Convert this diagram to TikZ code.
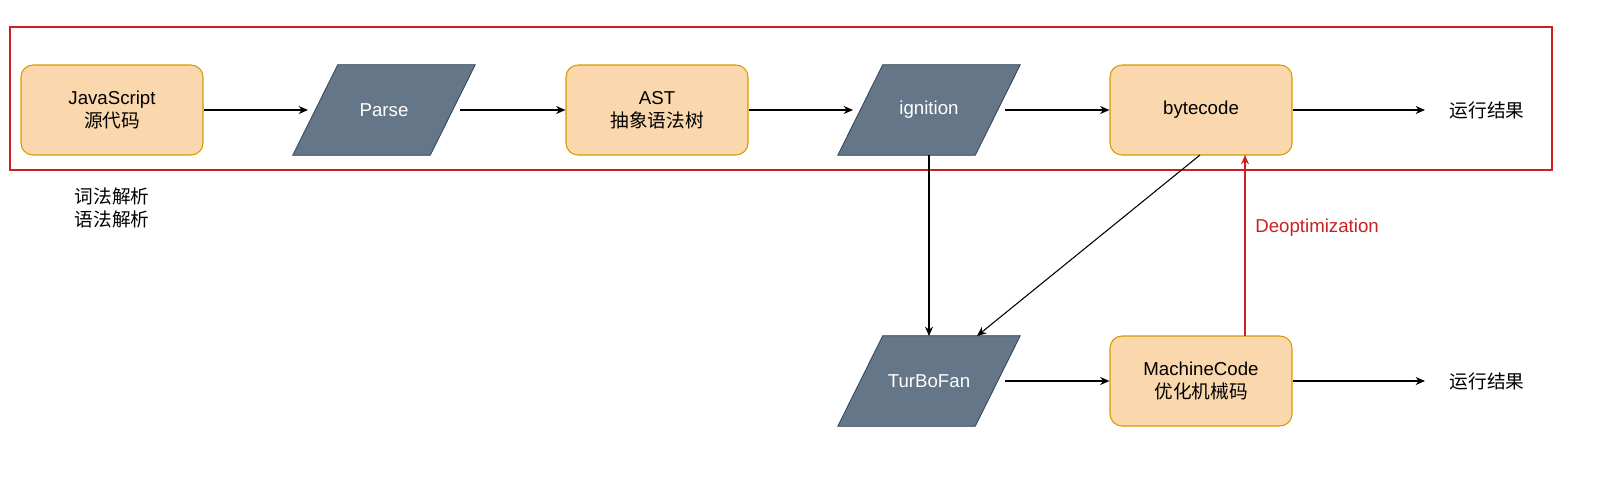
\documentclass[tikz,border=0pt]{standalone}
\usepackage{fontspec}
\setmainfont{Liberation Sans}
\newfontfamily\cjk{Noto Sans CJK SC}
\usetikzlibrary{arrows.meta,calc}
\definecolor{ofill}{HTML}{FAD7AC}
\definecolor{oline}{HTML}{D79B00}
\definecolor{pfill}{HTML}{647687}
\definecolor{pline}{HTML}{314354}
\definecolor{dred}{HTML}{CC1F1F}
\tikzset{
 x=0.75pt,y=-0.75pt,
 every node/.style={font=\fontsize{14}{17}\selectfont, align=center},
 obox/.style={draw=oline,fill=ofill,rounded corners=9pt,minimum width=136.5pt,minimum height=67.5pt,line width=0.8pt},
 pbox/.style={minimum width=136.5pt,minimum height=67.5pt,text=white},
 pshape/.style={fill=pfill,draw=pline,line width=0.6pt},
 arr/.style={-{Stealth[length=7pt,width=6pt]},line width=0.8pt},
}
\newcommand{\para}[1]{\path[pshape] ($(#1.south west)$) -- ($(#1.north west)+(45,0)$) -- ($(#1.north east)$) -- ($(#1.south east)-(45,0)$) -- cycle;}
\begin{document}
\begin{tikzpicture}
\useasboundingbox (0,0) rectangle (1621,479);
\draw[dred,line width=1pt] (10,27) rectangle (1552,170);
\node[obox] (js) at (112,110) {JavaScript\\{\cjk 源代码}};
\node[pbox] (parse) at (384,110) {};
\para{parse}
\node[pbox] at (parse) {Parse};
\node[obox] (ast) at (657,110) {AST\\{\cjk 抽象语法树}};
\node[pbox] (ign) at (929,110) {};
\para{ign}
\node[pbox] at (ign) {ignition};
\node[obox] (bc) at (1201,110) {bytecode};
\node (r1) at (1487,110) {\cjk 运行结果};
\node (lex) at (112,208) {\cjk 词法解析\\\cjk 语法解析};
\node[pbox] (tf) at (929,381) {};
\para{tf}
\node[pbox] at (tf) {TurBoFan};
\node[obox] (mc) at (1201,381) {MachineCode\\{\cjk 优化机械码}};
\node (r2) at (1487,381) {\cjk 运行结果};
\coordinate (pw) at (308,110);
\coordinate (iw) at (853,110);
\coordinate (tfe) at (1005,381);
\coordinate (t1) at (1425,110);
\coordinate (t2) at (1425,381);
\draw[arr] (js.east) -- (pw);
\draw[arr] (parse.east) ++(-15,0) -- (ast.west);
\draw[arr] (ast.east) -- (iw);
\draw[arr] (ign.east) ++(-15,0) -- (bc.west);
\draw[arr] (bc.east) -- (t1);
\draw[arr] (929,155) -- (929,336);
\draw[arr] (1200,155) -- (977,336);
\draw[arr] (tfe) -- (mc.west);
\draw[arr] (mc.east) -- (t2);
\draw[arr,dred] (1245,336) -- node[right=4pt,pos=0.6,text=dred]{Deoptimization} (1245,155);
\end{tikzpicture}
\end{document}
